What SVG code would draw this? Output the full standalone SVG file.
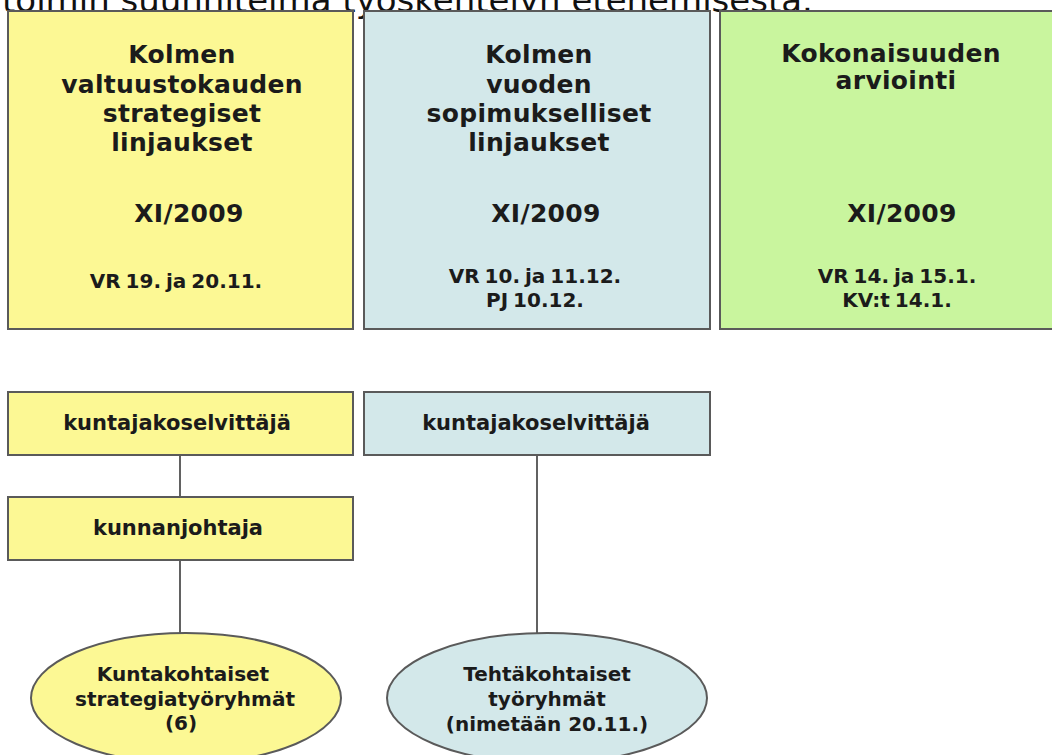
<svg xmlns="http://www.w3.org/2000/svg" width="1052" height="755" viewBox="0 0 1052 755">
<style>
.hdr{font-family:"DejaVu Sans","Liberation Sans",sans-serif;font-size:34px;fill:#111}
.box{stroke:#5a5a5a;stroke-width:2}
.y{fill:#fcf894}
.b{fill:#d3e8ea}
.g{fill:#c9f59e}
.t{font-family:"DejaVu Sans","Liberation Sans",sans-serif;font-weight:bold;fill:#1b1b1b;text-anchor:middle}
.ti{font-size:25px;letter-spacing:0.3px}
.d{font-size:20px;word-spacing:-2px}
.s{font-size:21px}
.e{font-size:20px}
.c{stroke:#3a3a3a;stroke-width:1.6;fill:none}
</style>
<text class="hdr" x="2" y="12">toimin suunnitelma työskentelyn etenemisestä.</text>

<g id="connectors">
<line class="c" x1="180" y1="455" x2="180" y2="497"/>
<line class="c" x1="180" y1="560" x2="180" y2="634"/>
<line class="c" x1="537" y1="455" x2="537" y2="633"/>
</g>

<g id="box1">
<rect class="box y" x="8" y="11" width="345" height="318"/>
<text class="t ti" x="182" y="63">Kolmen</text>
<text class="t ti" x="182" y="93">valtuustokauden</text>
<text class="t ti" x="182" y="122">strategiset</text>
<text class="t ti" x="182" y="151">linjaukset</text>
<text class="t ti" x="189" y="222">XI/2009</text>
<text class="t d" x="176" y="288">VR 19. ja 20.11.</text>
</g>

<g id="box2">
<rect class="box b" x="364" y="11" width="346" height="318"/>
<text class="t ti" x="539" y="63">Kolmen</text>
<text class="t ti" x="539" y="93">vuoden</text>
<text class="t ti" x="539" y="122">sopimukselliset</text>
<text class="t ti" x="539" y="151">linjaukset</text>
<text class="t ti" x="546" y="222">XI/2009</text>
<text class="t d" x="535" y="283">VR 10. ja 11.12.</text>
<text class="t d" x="535" y="307">PJ 10.12.</text>
</g>

<g id="box3">
<rect class="box g" x="720" y="11" width="345" height="318"/>
<text class="t ti" x="891" y="62">Kokonaisuuden</text>
<text class="t ti" x="896" y="89">arviointi</text>
<text class="t ti" x="902" y="222">XI/2009</text>
<text class="t d" x="897" y="283">VR 14. ja 15.1.</text>
<text class="t d" x="897" y="307">KV:t 14.1.</text>
</g>

<g id="selvittaja1">
<rect class="box y" x="8" y="392" width="345" height="63"/>
<text class="t s" x="177" y="430">kuntajakoselvittäjä</text>
</g>

<g id="kunnanjohtaja">
<rect class="box y" x="8" y="497" width="345" height="63"/>
<text class="t s" x="178" y="535">kunnanjohtaja</text>
</g>

<g id="selvittaja2">
<rect class="box b" x="364" y="392" width="346" height="63"/>
<text class="t s" x="536" y="430">kuntajakoselvittäjä</text>
</g>

<g id="strategiaryhmat">
<ellipse class="box y" cx="186" cy="698" rx="155" ry="65"/>
<text class="t e" x="183" y="681">Kuntakohtaiset</text>
<text class="t e" x="185" y="706">strategiatyöryhmät</text>
<text class="t e" x="181" y="730">(6)</text>
</g>

<g id="tehtavaryhmat">
<ellipse class="box b" cx="547" cy="698" rx="160" ry="65"/>
<text class="t e" x="547" y="681">Tehtäkohtaiset</text>
<text class="t e" x="547" y="706">työryhmät</text>
<text class="t e" x="547" y="731">(nimetään 20.11.)</text>
</g>
</svg>
